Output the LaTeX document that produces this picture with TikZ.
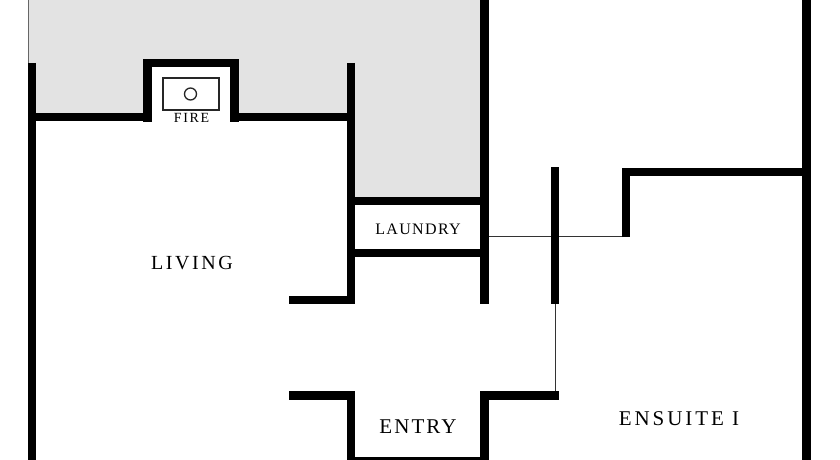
\documentclass[tikz,border=0pt]{standalone}
\usepackage{fontspec}
\setmainfont{Liberation Serif}
\tikzset{
    wall/.style={draw=black,line width=8.5pt},
    thinwall/.style={draw=black!80,line width=1.2pt},
    roomlabel/.style n args={2}{inner sep=0pt,text=black,font=\fontsize{#1}{#1}\selectfont\addfontfeatures{LetterSpace=#2}}
}
\begin{document}
\begin{tikzpicture}[x=1pt,y=-1pt]
\useasboundingbox (0,0) rectangle (840,460);
% yard
\fill[gray!22] (28.5,0) -- (484,0) -- (484,201) -- (351,201) -- (351,117) -- (234,117) -- (234,63) -- (147,63) -- (147,117) -- (32,117) -- (32,63) -- (28.5,63) -- cycle;
\draw[black!60,line width=1pt] (28.5,0) -- (28.5,63);
% thin walls
\begin{scope}[every path/.style={thinwall}]
    \draw (489,236.5) -- (622,236.5);
    \draw (555.5,304) -- (555.5,392);
\end{scope}
% walls
\begin{scope}[every path/.style={wall}]
    \draw (32,63) -- (32,460);
    \draw (36,117) -- (143,117);
    \draw (147.5,121.5) -- (147.5,63) -- (234.5,63) -- (234.5,121.5);
    \draw (239,117) -- (351,117);
    \draw (351,63) -- (351,300) -- (289,300);
    \draw (355,201) -- (480,201);
    \draw (355,253) -- (480,253);
    \draw (484.5,0) -- (484.5,304);
    \draw (555,167) -- (555,304);
    \draw (626,237) -- (626,172) -- (802,172);
    \draw (806.5,0) -- (806.5,460);
    \draw (289,395.5) -- (351,395.5) -- (351,461) -- (484.5,461) -- (484.5,395.5) -- (559,395.5);
\end{scope}
% fireplace
\draw[black!85,line width=1.3pt] (163,78) rectangle (219,110);
\draw[black!85,line width=1.3pt] (190.5,94) circle (6pt);
% labels
\node[roomlabel={14}{12}] (fire) at (191.5,117.5) {FIRE};
\node[roomlabel={20}{13}] (living) at (192,262.7) {LIVING};
\node[roomlabel={16}{8.5}] (laundry) at (418,229.5) {LAUNDRY};
\node[roomlabel={21}{10}] (entry) at (418,426.7) {ENTRY};
\node[roomlabel={21}{14}] (ensuite) at (679,418.7) {ENSUITE I};
\end{tikzpicture}
\end{document}
